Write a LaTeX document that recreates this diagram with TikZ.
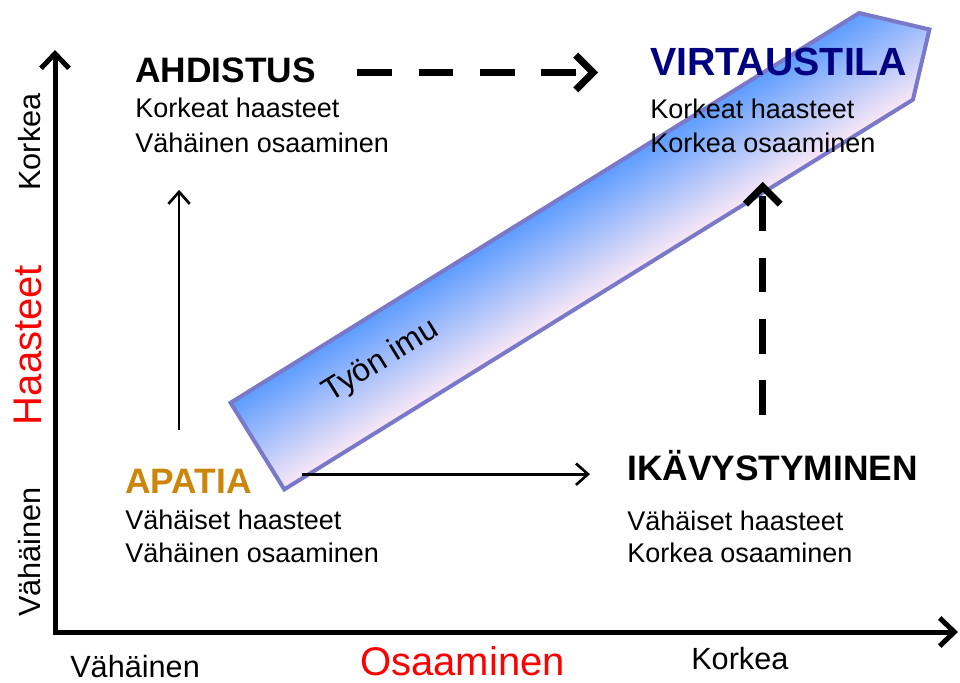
\documentclass[tikz,border=0pt]{standalone}
\usepackage{fontspec}
\setmainfont{Liberation Sans}
\usepackage{tikz}
\usetikzlibrary{arrows.meta, positioning, shapes.symbols}
\definecolor{flowblue}{RGB}{92,156,255}
\definecolor{flowmid}{RGB}{140,188,250}
\definecolor{flowpink}{RGB}{250,232,246}
\definecolor{flowedge}{RGB}{122,120,200}
\definecolor{navy}{RGB}{0,0,128}
\definecolor{apatiabrown}{RGB}{204,134,10}
\tikzset{title/.style={font=\fontsize{26.5}{30}\selectfont\bfseries,inner sep=0pt,anchor=base west},
         body/.style={font=\fontsize{20.25}{24}\selectfont,inner sep=0pt,anchor=base west},
         axislabel/.style={font=\fontsize{23}{26}\selectfont,inner sep=0pt},
         axisname/.style={font=\fontsize{30}{34}\selectfont,text=red,inner sep=0pt},
         axis/.style={line width=3.75pt,{Straight Barb[length=11pt,width=21pt]}-{Straight Barb[length=11pt,width=21pt]}},
         thinarrow/.style={line width=2pt,-{Straight Barb[length=9pt,width=16pt]}},
         dasharrow/.style={line width=5.25pt,dash pattern=on 26pt off 20pt,-{Straight Barb[length=13pt,width=26pt]}},
         flow/.style={signal,signal to=east,draw=flowedge,line width=3pt,top color=flowblue,middle color=flowmid,bottom color=flowpink,inner sep=0pt}}

\begin{document}
\begin{tikzpicture}[x=0.75pt,y=-0.75pt]
    \useasboundingbox (0,0) rectangle (960,682);
    % Flow band
    \begin{scope}[transform canvas={shift={(571.75,251.2)},rotate=31.8}]
      \node (flow) [flow, minimum width=593pt, minimum height=76.5pt] at (0,0) {};
    \end{scope}
    \node (imu) [font=\fontsize{24}{27}\selectfont, rotate=31.8, inner sep=0pt] at (381,361) {Työn imu};
    % Axes
    \coordinate (ytop) at (55,50);
    \coordinate (origin) at (55,632);
    \coordinate (xend) at (958,632);
    \draw[axis] (ytop) -- (origin) -- (xend);
    \node (ylow) [axislabel, rotate=90] at (30,552) {Vähäinen};
    \node (yname) [axisname, rotate=90] at (28,345) {Haasteet};
    \node (yhigh) [axislabel, rotate=90] at (30,142) {Korkea};
    \node (xlow) [axislabel, anchor=base west] at (70,677) {Vähäinen};
    \node (xname) [axisname, anchor=base west] at (360,675) {Osaaminen};
    \node (xhigh) [axislabel, anchor=base west] at (691,669) {Korkea};
    % Quadrants
    \node (ahdistus) [title] at (135,82) {AHDISTUS};
    \node (ahdistusA) [body] at (135,117) {Korkeat haasteet};
    \node (ahdistusB) [body] at (135,152) {Vähäinen osaaminen};
    \node (virtaustila) [title, text=navy, font=\fontsize{29.5}{32}\selectfont\bfseries] at (650,75) {VIRTAUSTILA};
    \node (virtaustilaA) [body] at (650,118) {Korkeat haasteet};
    \node (virtaustilaB) [body] at (650,152) {Korkea osaaminen};
    \node (apatia) [title, text=apatiabrown] at (125,493) {APATIA};
    \node (apatiaA) [body] at (125,529) {Vähäiset haasteet};
    \node (apatiaB) [body] at (125,562) {Vähäinen osaaminen};
    \node (ikavystyminen) [title] at (627,480) {IKÄVYSTYMINEN};
    \node (ikavystyminenA) [body] at (627,530) {Vähäiset haasteet};
    \node (ikavystyminenB) [body] at (627,562) {Korkea osaaminen};
    % Transitions
    \draw[dasharrow, shorten <=31pt, shorten >=39pt] ([yshift=-2pt]ahdistus.east) -- ([yshift=-2pt]ahdistus.east -| virtaustila.west);
    \draw[dasharrow, shorten <=26pt, shorten >=22pt] (virtaustilaB.south |- ikavystyminen.north) -- (virtaustilaB.south);
    \draw[thinarrow, shorten <=28.5pt, shorten >=28pt] ([xshift=-7pt]apatia.north) -- ([xshift=-7pt]apatia.north |- ahdistusB.south);
    \draw[thinarrow, shorten <=37.5pt, shorten >=27.75pt] ([yshift=5pt]apatia.east) -- ([yshift=5pt]apatia.east -| ikavystyminen.west);
\end{tikzpicture}
\end{document}
